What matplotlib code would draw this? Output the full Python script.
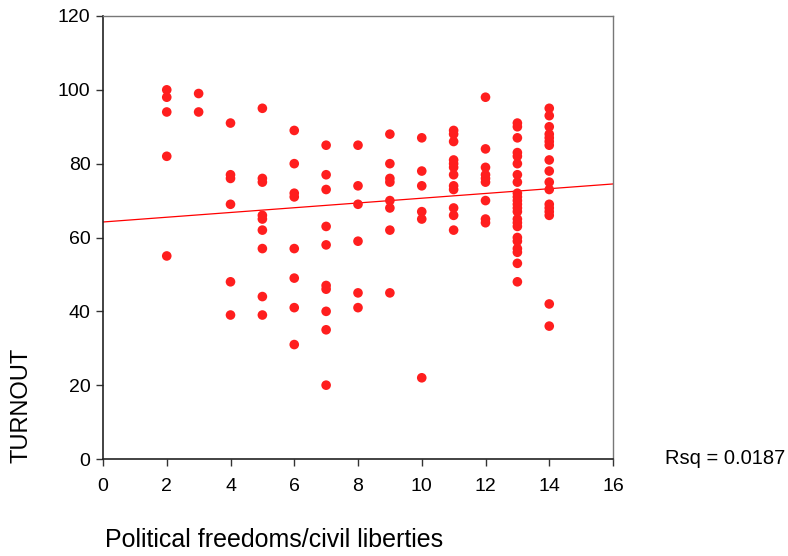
import numpy as np
import matplotlib
matplotlib.use("Agg")
import matplotlib.pyplot as plt

plt.rcParams['font.family'] = ['Liberation Sans', 'DejaVu Sans']

# Turnout values grouped by political freedoms score
groups = {
    2: [100, 98, 94, 82, 55],
    3: [99, 94],
    4: [91, 77, 76, 69, 48, 39],
    5: [95, 76, 75, 66, 65, 62, 57, 44, 39],
    6: [89, 80, 72, 71, 57, 49, 41, 31],
    7: [85, 77, 73, 63, 58, 47, 46, 40, 35, 20],
    8: [85, 74, 69, 59, 45, 41],
    9: [88, 80, 76, 75, 70, 68, 62, 45],
    10: [87, 78, 74, 67, 65, 22],
    11: [89, 88, 86, 81, 80, 79, 77, 74, 73, 68, 66, 62],
    12: [98, 84, 79, 77, 76, 75, 70, 65, 64],
    13: [91, 90, 87, 83, 82, 80, 77, 75, 72, 71, 70, 69, 68, 67, 65, 64, 63,
         60, 59, 57, 56, 53, 48],
    14: [95, 93, 90, 88, 87, 86, 85, 81, 78, 75, 73, 69, 68, 67, 66, 42, 36],
}
x_vals = np.array([k for k, v in groups.items() for _ in v], dtype=float)
y_vals = np.array([t for v in groups.values() for t in v], dtype=float)

# Fit line (full dataset has hidden overlaps)
fit_intercept = 64.2
fit_slope = 0.644

x_ticks = [0, 2, 4, 6, 8, 10, 12, 14, 16]
y_ticks = [0, 20, 40, 60, 80, 100, 120]
rsq_label = "Rsq = 0.0187"
x_label = "Political freedoms/civil liberties"
y_label = "TURNOUT"

fig = plt.figure(figsize=(7.88, 5.56), dpi=100)
ax = fig.add_axes([103/788, 1 - 459/556, 510/788, 443/556])

ax.scatter(x_vals, y_vals, s=48, color='#ff1e1e', edgecolors='none', zorder=3)

xl = np.array([0, 16])
ax.plot(xl, fit_intercept + fit_slope * xl, color='#ff0000', lw=0.9, zorder=2)

ax.set_xlim(0, 16)
ax.set_ylim(0, 120)
ax.set_xticks(x_ticks)
ax.set_yticks(y_ticks)
ax.tick_params(axis='both', direction='out', length=5, width=1, labelsize=14,
               color='#333333')
ax.tick_params(axis='y', pad=4)
ax.tick_params(axis='x', pad=9)
for s in ['left', 'bottom']:
    ax.spines[s].set_color('#222222')
    ax.spines[s].set_linewidth(1.2)
for s in ['top', 'right']:
    ax.spines[s].set_color('#777777')
    ax.spines[s].set_linewidth(1.0)

fig.text(105/788, 1 - 540/556, x_label, fontsize=18, ha='left', va='center')
fig.text(22/788, 1 - 405/556, y_label, fontsize=17, rotation=90, ha='center', va='center')
fig.text(665/788, 1 - 459/556, rsq_label, fontsize=14.5, ha='left', va='center')

fig.savefig("out.png", dpi=100)
